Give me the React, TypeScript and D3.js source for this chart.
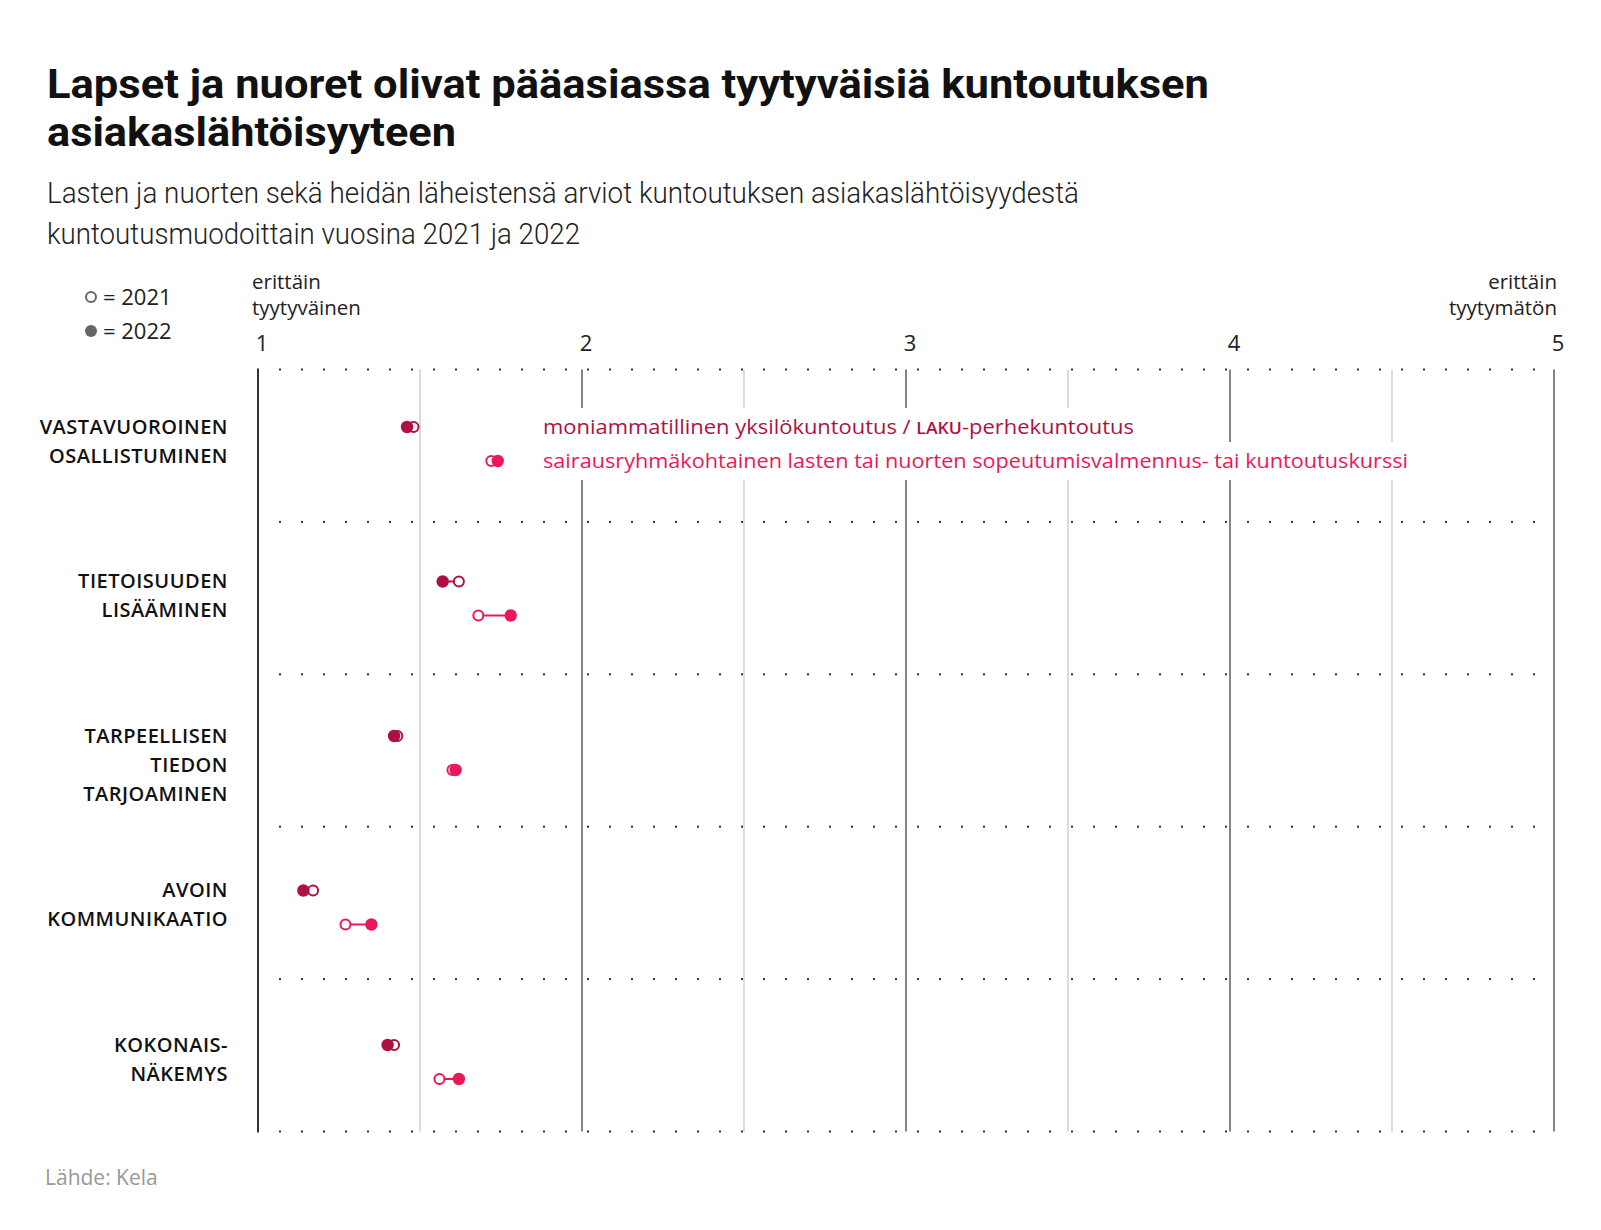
import React from "react";
import * as d3 from "d3";

const WIDTH = 1601;
const HEIGHT = 1230;

const DARK = "#b0103f";
const PINK = "#ec1759";

const categories = [
  ["VASTAVUOROINEN", "OSALLISTUMINEN"],
  ["TIETOISUUDEN", "LISÄÄMINEN"],
  ["TARPEELLISEN", "TIEDON", "TARJOAMINEN"],
  ["AVOIN", "KOMMUNIKAATIO"],
  ["KOKONAIS-", "NÄKEMYS"],
];

// moniammatillinen yksilökuntoutus / LAKU-perhekuntoutus
const moniammatillinen2021 = [1.48, 1.62, 1.43, 1.17, 1.42];
const moniammatillinen2022 = [1.46, 1.57, 1.42, 1.14, 1.4];

// sairausryhmäkohtainen sopeutumisvalmennus- tai kuntoutuskurssi
const sairausryhma2021 = [1.72, 1.68, 1.6, 1.27, 1.56];
const sairausryhma2022 = [1.74, 1.78, 1.61, 1.35, 1.62];

const xTicks = [1, 2, 3, 4, 5];
const xGrid = [1, 1.5, 2, 2.5, 3, 3.5, 4, 4.5, 5];

const series = [
  { name: "moni", color: DARK, v2021: moniammatillinen2021, v2022: moniammatillinen2022, offset: 0, labelWidth: 591 },
  { name: "sair", color: PINK, v2021: sairausryhma2021, v2022: sairausryhma2022, offset: 34, labelWidth: 865 },
];

const FONT = "'Open Sans', 'Noto Sans', sans-serif";

export default function App() {
  const x = d3.scaleLinear().domain([1, 5]).range([258, 1554]);
  const ids = categories.map((_, i) => String(i));
  // separators between the groups
  const y = d3.scaleBand().domain(ids).range([369.5, 1131.5]);
  const bandEdges = [...ids.map((id) => y(id) as number), 1131.5];
  // first dot row of each group
  const rowY = d3.scalePoint().domain(ids).range([427, 1045]);
  const dots = d3.range(0, Math.floor((x(5) - x(1)) / 22) + 1).map((k) => x(1) + 22 * k);
  const labelX = 543;

  return (
    <svg
      width={WIDTH}
      height={HEIGHT}
      style={{ position: "absolute", left: 0, top: 0, background: "#fff" }}
      fontFamily={FONT}
    >
      {/* title */}
      <g fontFamily="Roboto, sans-serif" fontWeight={700} fontSize={40} fill="#111">
        <text x={47} y={98} textLength={1162} lengthAdjust="spacingAndGlyphs">
          Lapset ja nuoret olivat pääasiassa tyytyväisiä kuntoutuksen
        </text>
        <text x={47} y={146} textLength={409} lengthAdjust="spacingAndGlyphs">
          asiakaslähtöisyyteen
        </text>
      </g>
      <g fontFamily="Roboto, sans-serif" fontWeight={300} fontSize={29} fill="#222">
        <text x={47} y={203} textLength={1032} lengthAdjust="spacingAndGlyphs">
          Lasten ja nuorten sekä heidän läheistensä arviot kuntoutuksen asiakaslähtöisyydestä
        </text>
        <text x={47} y={244} textLength={533} lengthAdjust="spacingAndGlyphs">
          kuntoutusmuodoittain vuosina 2021 ja 2022
        </text>
      </g>

      {/* year legend */}
      <circle cx={91} cy={297} r={5} fill="#fff" stroke="#666" strokeWidth={2} />
      <circle cx={91} cy={331} r={6} fill="#666" />
      <g fontSize={22} fill="#222">
        <text x={103} y={305}>= 2021</text>
        <text x={103} y={339}>= 2022</text>
      </g>

      {/* axis end labels */}
      <g fontSize={20.5} fill="#222">
        <text x={252} y={289}>erittäin</text>
        <text x={252} y={315}>tyytyväinen</text>
        <text x={1557} y={289} textAnchor="end">erittäin</text>
        <text x={1557} y={315} textAnchor="end">tyytymätön</text>
        {xTicks.map((t) => (
          <text key={t} x={x(t) + 4} y={351} textAnchor="middle" fontSize={22}>
            {t}
          </text>
        ))}
      </g>

      {/* vertical grid */}
      {xGrid.map((g) => (
        <line
          key={g}
          x1={x(g)}
          x2={x(g)}
          y1={369.5}
          y2={1131.5}
          stroke={Number.isInteger(g) ? (g === 1 ? "#333" : "#666") : "#c4c4c4"}
          strokeWidth={Number.isInteger(g) ? (g === 1 ? 2 : 1.6) : 1.2}
        />
      ))}

      {/* dotted separators */}
      {bandEdges.map((yy, i) => (
        <g key={i}>
          {dots.map((dx) => (
            <rect key={dx} x={dx - 1} y={yy - 1} width={2} height={2} fill="#333" />
          ))}
        </g>
      ))}

      {/* category labels */}
      {categories.map((lines, i) => {
        const base = (rowY(String(i)) as number) + 6.5;
        return (
          <text key={i} fontSize={20} fontWeight={600} fill="#111" textAnchor="end" letterSpacing={0.5}>
            {lines.map((l, j) => (
              <tspan key={j} x={228} y={base + j * 29}>
                {l}
              </tspan>
            ))}
          </text>
        );
      })}

      {/* white boxes behind the series labels */}
      {series.map((s) => (
        <rect
          key={s.name}
          x={labelX - 8}
          y={(rowY("0") as number) + s.offset - 19}
          width={s.labelWidth + 16}
          height={s.offset === 0 ? 36 : 38}
          fill="#fff"
        />
      ))}

      {/* series labels */}
      <g fontSize={20.5} fontWeight={500}>
        <text x={labelX} y={(rowY("0") as number) + 7} fill={DARK} textLength={591} lengthAdjust="spacingAndGlyphs">
          moniammatillinen yksilökuntoutus / <tspan fontSize={16.5} fontWeight={600}>LAKU</tspan>-perhekuntoutus
        </text>
        <text x={labelX} y={(rowY("0") as number) + 34 + 7} fill={PINK} textLength={865} lengthAdjust="spacingAndGlyphs">
          sairausryhmäkohtainen lasten tai nuorten sopeutumisvalmennus- tai kuntoutuskurssi
        </text>
      </g>

      {/* dumbbells */}
      {series.map((s) =>
        categories.map((_, i) => {
          const cy = (rowY(String(i)) as number) + s.offset;
          const a = x(s.v2021[i]);
          const b = x(s.v2022[i]);
          return (
            <g key={s.name + i}>
              <line x1={a} x2={b} y1={cy} y2={cy} stroke={s.color} strokeWidth={2} />
              <circle cx={a} cy={cy} r={5} fill="#fff" stroke={s.color} strokeWidth={2} />
              <circle cx={b} cy={cy} r={6.2} fill={s.color} />
            </g>
          );
        })
      )}

      {/* source */}
      <text x={45} y={1185} fontSize={21} fill="#999">
        Lähde: Kela
      </text>
    </svg>
  );
}
